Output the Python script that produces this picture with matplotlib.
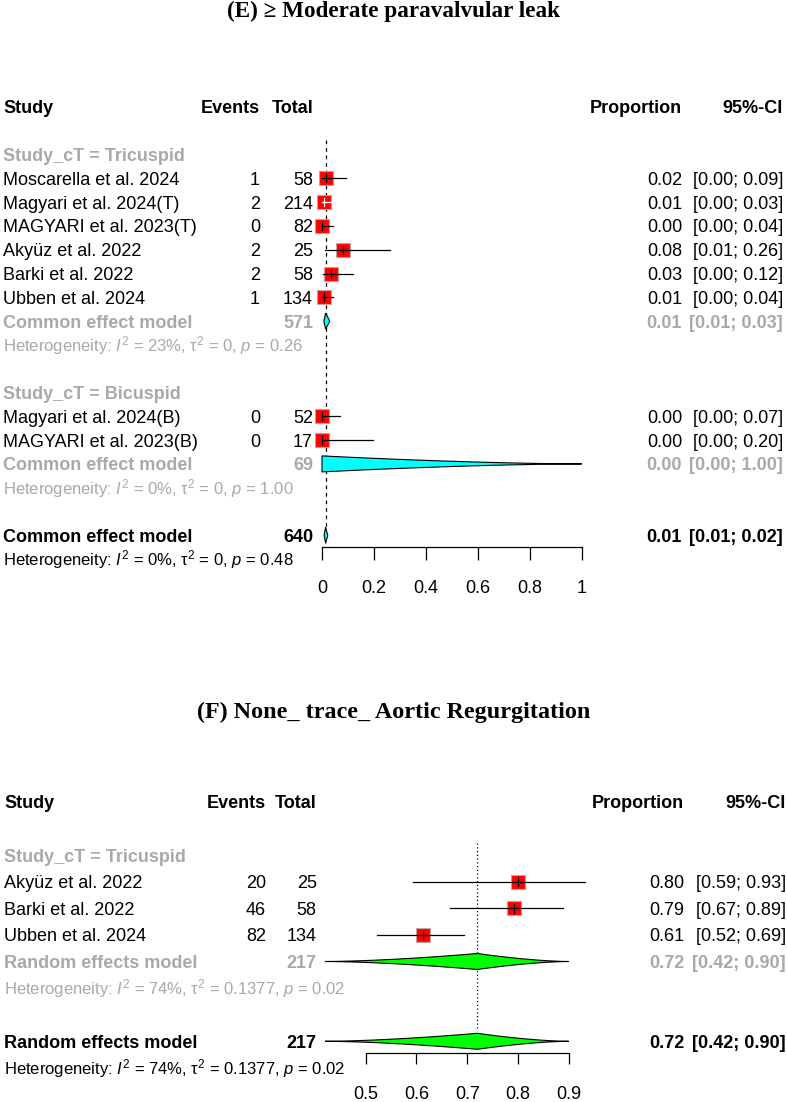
import matplotlib
matplotlib.use("Agg")
import matplotlib.pyplot as plt
from matplotlib import transforms
import numpy as np

plt.rcParams['font.family'] = ['Liberation Sans', 'DejaVu Sans']
plt.rcParams['mathtext.fontset'] = 'custom'
plt.rcParams['mathtext.rm'] = 'Liberation Sans'
plt.rcParams['mathtext.it'] = 'Liberation Sans:italic'
plt.rcParams['mathtext.bf'] = 'Liberation Sans:bold'

# ---------------- data: panel E ----------------
e_title = "(E) \u2265 Moderate paravalvular leak"
e_studies = ["Moscarella et al. 2024", "Magyari et al. 2024(T)", "MAGYARI et al. 2023(T)",
             "Aky\u00fcz et al. 2022", "Barki et al. 2022", "Ubben et al. 2024",
             "Magyari et al. 2024(B)", "MAGYARI et al. 2023(B)"]
e_groups = ["Tricuspid"] * 6 + ["Bicuspid"] * 2
e_events = [1, 2, 0, 2, 2, 1, 0, 0]
e_total = [58, 214, 82, 25, 58, 134, 52, 17]
e_prop = [0.017, 0.009, 0.0, 0.08, 0.034, 0.0075, 0.0, 0.0]
e_lower = [0.0004, 0.0011, 0.0, 0.0098, 0.0042, 0.0002, 0.0, 0.0]
e_upper = [0.092, 0.033, 0.044, 0.26, 0.119, 0.041, 0.068, 0.197]
e_group_names = ["Tricuspid", "Bicuspid"]
e_group_est = [0.014, 0.0]
e_group_lower = [0.007, 0.0]
e_group_upper = [0.030, 1.0]
e_group_het = [("23%", "0", "0.26"), ("0%", "0", "1.00")]
e_overall = (0.014, 0.008, 0.022)
e_overall_het = ("0%", "0", "0.48")
e_model = "Common effect model"
e_ticks = [0, 0.2, 0.4, 0.6, 0.8, 1.0]
e_ticklabels = ["0", "0.2", "0.4", "0.6", "0.8", "1"]

# ---------------- data: panel F ----------------
f_title = "(F) None_ trace_ Aortic Regurgitation"
f_studies = ["Aky\u00fcz et al. 2022", "Barki et al. 2022", "Ubben et al. 2024"]
f_groups = ["Tricuspid"] * 3
f_events = [20, 46, 82]
f_total = [25, 58, 134]
f_prop = [0.80, 0.793, 0.612]
f_lower = [0.593, 0.666, 0.523]
f_upper = [0.932, 0.888, 0.694]
f_group_names = ["Tricuspid"]
f_group_est = [0.72]
f_group_lower = [0.42]
f_group_upper = [0.90]
f_group_het = [("74%", "0.1377", "0.02")]
f_overall = (0.72, 0.42, 0.90)
f_overall_het = ("74%", "0.1377", "0.02")
f_model = "Random effects model"
f_ticks = [0.5, 0.6, 0.7, 0.8, 0.9]
f_ticklabels = ["0.5", "0.6", "0.7", "0.8", "0.9"]

# ---------------- figure ----------------
W, H, DPI = 787, 1102, 100
fig = plt.figure(figsize=(W / DPI, H / DPI), dpi=DPI)
fig.patch.set_facecolor('white')
GRAY = '#a9a9a9'
FS = 13
FS_HET = 12


def het_text(h):
    i2, t2, p = h
    return ("Heterogeneity: $\\mathit{I}^{2}$ = " + i2 + ", \u03c4$^{2}$ = " + t2 +
            ", $\\mathit{p}$ = " + p)


def draw_panel(title, title_base_px, title_fs, studies, groups, events, total, prop, lower, upper,
               gnames, gest, glow, gup, ghet, overall, overall_het, model,
               ticks, ticklabels, diam_color, refstyle,
               row0_px, row_h, x_ref_val, x_ref_px, px_per_unit, xlim,
               cols, axis_row, ref_rows, tick_len, tick_pad):
    fig.text(0.5, 1 - title_base_px / H, title, ha='center', va='baseline',
             family=['Liberation Serif', 'DejaVu Serif'], weight='bold', fontsize=title_fs)
    ymin_row, ymax_row = -4, axis_row + 2.0
    left_px = x_ref_px + (xlim[0] - x_ref_val) * px_per_unit
    right_px = x_ref_px + (xlim[1] - x_ref_val) * px_per_unit
    top_px = row0_px + ymin_row * row_h
    bot_px = row0_px + ymax_row * row_h
    ax = fig.add_axes([left_px / W, 1 - bot_px / H, (right_px - left_px) / W, (bot_px - top_px) / H])
    ax.set_xlim(*xlim)
    ax.set_ylim(ymax_row, ymin_row)
    ax.patch.set_visible(False)
    for s in ['left', 'right', 'top']:
        ax.spines[s].set_visible(False)
    ax.spines['bottom'].set_position(('data', axis_row))
    ax.spines['bottom'].set_bounds(ticks[0], ticks[-1])
    ax.spines['bottom'].set_linewidth(0.9)
    ax.set_yticks([])
    ax.set_xticks(ticks)
    ax.set_xticklabels(ticklabels)
    ax.tick_params(axis='x', direction='out', length=tick_len, width=0.9, pad=tick_pad,
                   labelsize=FS)

    tr = transforms.blended_transform_factory(fig.transFigure, ax.transData)
    tr = tr + transforms.ScaledTranslation(0, -6.5 / DPI, fig.dpi_scale_trans)

    c_study, c_events, c_total, c_prop, c_ci = cols

    def put(xpx, row, s, ha='left', bold=False, color='black', fs=FS):
        ax.text(xpx / W, row, s, transform=tr, ha=ha, va='baseline', fontsize=fs,
                weight='bold' if bold else 'normal', color=color)

    # header
    put(c_study, -3, "Study", bold=True)
    put(c_events, -3, "Events", ha='right', bold=True)
    put(c_total, -3, "Total", ha='right', bold=True)
    put(c_prop, -3, "Proportion", ha='right', bold=True)
    put(c_ci, -3, "95%-CI", ha='right', bold=True)

    sq_half = 7.0 / px_per_unit
    hh = 8.0 / row_h

    def diamond(lo, est, up, row):
        span_px = (up - lo) * px_per_unit
        pw = 1.6 if span_px > 30 else 1.0
        xs_top, ys_top = [], []
        if est > lo:
            xl = np.linspace(lo, est, 40)
            xs_top += list(xl)
            ys_top += list(hh * ((xl - lo) / (est - lo)) ** pw)
        else:
            xs_top += [est]
            ys_top += [hh]
        if up > est:
            xr = np.linspace(est, up, 40)[1:]
            xs_top += list(xr)
            ys_top += list(hh * ((up - xr) / (up - est)) ** pw)
        xs = np.array(xs_top + xs_top[::-1])
        ys = np.array([row - y for y in ys_top] + [row + y for y in ys_top[::-1]])
        if est <= lo:
            xs = np.append(xs, est)
            ys = np.append(ys, row - hh)
        ax.fill(xs, ys, facecolor=diam_color, edgecolor='black', lw=0.8, zorder=3,
                clip_on=False)

    row = -1
    for gi, g in enumerate(gnames):
        put(c_study, row, "Study_cT = " + g, bold=True, color=GRAY)
        row += 1
        idx = [i for i, gg in enumerate(groups) if gg == g]
        for i in idx:
            put(c_study, row, studies[i])
            put(c_events, row, str(events[i]), ha='right')
            put(c_total, row, str(total[i]), ha='right')
            put(c_prop, row, f"{prop[i]:.2f}", ha='right')
            put(c_ci, row, f"[{lower[i]:.2f}; {upper[i]:.2f}]", ha='right')
            ax.plot([prop[i]], [row], marker='s', ms=10.4, mfc='#ff0000', mec='#c8a0a0',
                    mew=0.8, zorder=3, clip_on=False)
            inside = (prop[i] - sq_half <= lower[i]) and (upper[i] <= prop[i] + sq_half)
            lc = 'white' if inside else 'black'
            ax.plot([lower[i], upper[i]], [row, row], color=lc, lw=0.9, zorder=4,
                    clip_on=False)
            ax.plot([prop[i], prop[i]], [row - 0.16, row + 0.16], color=lc, lw=0.9,
                    zorder=4, clip_on=False)
            row += 1
        put(c_study, row, model, bold=True, color=GRAY)
        put(c_total, row, str(sum(total[i] for i in idx)), ha='right', bold=True, color=GRAY)
        put(c_prop, row, f"{gest[gi]:.2f}", ha='right', bold=True, color=GRAY)
        put(c_ci, row, f"[{glow[gi]:.2f}; {gup[gi]:.2f}]", ha='right', bold=True, color=GRAY)
        diamond(glow[gi], gest[gi], gup[gi], row)
        row += 1
        put(c_study, row, het_text(ghet[gi]), color=GRAY, fs=FS_HET)
        row += 2
    # overall
    est, lo, up = overall
    put(c_study, row, model, bold=True)
    put(c_total, row, str(sum(total)), ha='right', bold=True)
    put(c_prop, row, f"{est:.2f}", ha='right', bold=True)
    put(c_ci, row, f"[{lo:.2f}; {up:.2f}]", ha='right', bold=True)
    diamond(lo, est, up, row)
    put(c_study, row + 1, het_text(overall_het), fs=FS_HET)

    ax.plot([est, est], list(ref_rows), color='black', lw=0.9, ls=refstyle, zorder=1,
            clip_on=False)
    return ax


draw_panel(e_title, 17, 16.7, e_studies, e_groups, e_events, e_total, e_prop, e_lower, e_upper,
           e_group_names, e_group_est, e_group_lower, e_group_upper, e_group_het,
           e_overall, e_overall_het, e_model, e_ticks, e_ticklabels,
           '#00ffff', (0, (3, 3)),
           row0_px=178.3, row_h=23.8, x_ref_val=0.0, x_ref_px=322.0, px_per_unit=259.7,
           xlim=(0.0, 1.0), cols=(3, 260, 313, 682, 783), axis_row=15.48,
           ref_rows=(-1.61, 14.64), tick_len=9, tick_pad=15)

draw_panel(f_title, 718, 17.4, f_studies, f_groups, f_events, f_total, f_prop, f_lower, f_upper,
           f_group_names, f_group_est, f_group_lower, f_group_upper, f_group_het,
           f_overall, f_overall_het, f_model, f_ticks, f_ticklabels,
           '#00ff00', (0, (1, 2)),
           row0_px=881.7, row_h=26.6, x_ref_val=0.5, x_ref_px=365.7, px_per_unit=507.5,
           xlim=(0.4, 0.95), cols=(4, 266, 316.7, 684, 786), axis_row=6.43,
           ref_rows=(-1.44, 5.58), tick_len=8, tick_pad=16)

fig.savefig("out.png", dpi=DPI, facecolor='white')
